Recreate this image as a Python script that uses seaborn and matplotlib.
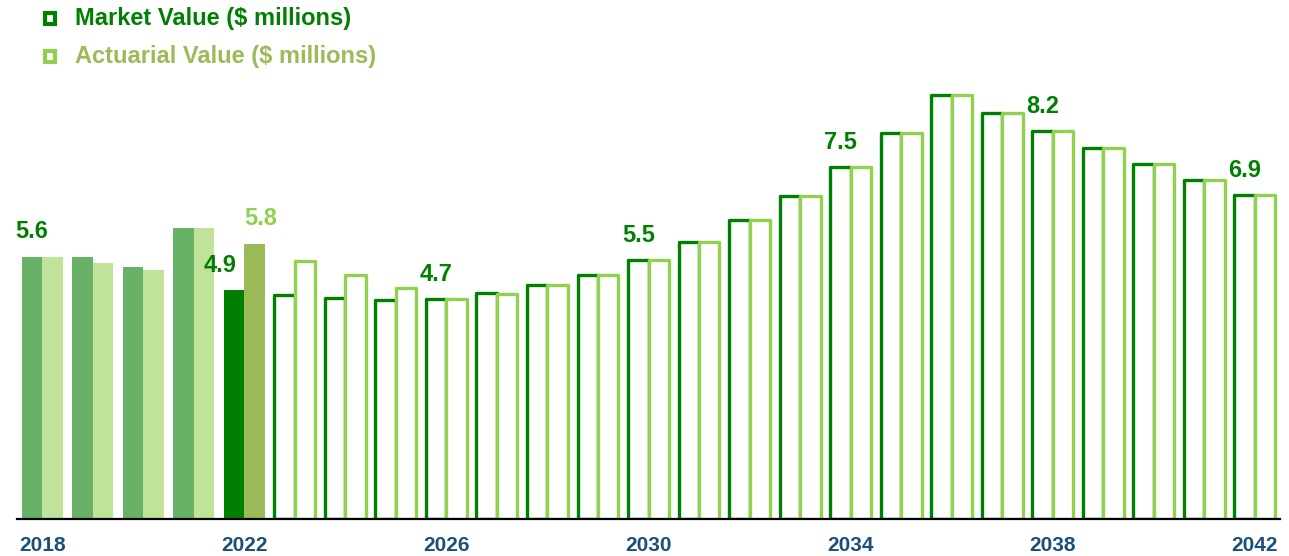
import numpy as np
import pandas as pd

import matplotlib.pyplot as plt
from matplotlib.patches import Rectangle
import seaborn as sns

years = list(range(2018, 2043))
market = [5.6, 5.6, 5.38, 6.22, 4.89, 4.79, 4.72, 4.69, 4.70, 4.83, 5.0, 5.21, 5.53,
          5.92, 6.39, 6.91, 7.52, 8.25, 9.06, 8.68, 8.29, 7.93, 7.59, 7.24, 6.92]
actuarial = [5.6, 5.47, 5.32, 6.22, 5.88, 5.51, 5.22, 4.94, 4.70, 4.81, 5.0, 5.21, 5.53,
             5.92, 6.39, 6.91, 7.52, 8.25, 9.06, 8.68, 8.29, 7.93, 7.59, 7.24, 6.92]
series_names = ['Market Value ($ millions)', 'Actuarial Value ($ millions)']
tick_years = [2018, 2022, 2026, 2030, 2034, 2038, 2042]
label_years = [2018, 2022, 2022, 2026, 2030, 2034, 2038, 2042]
label_series = [0, 0, 1, 0, 0, 0, 0, 0]
label_text = ['5.6', '4.9', '5.8', '4.7', '5.5', '7.5', '8.2', '6.9']

sns.set_style('white')
plt.rcParams['font.family'] = ['Liberation Sans', 'DejaVu Sans']

DKGREEN = '#008000'
LTGREEN = '#92D050'
OLIVE = '#9BBB59'
HIST = ['#67B267', '#C1E399']
CUR = [DKGREEN, OLIVE]
EDGE = [DKGREEN, LTGREEN]

df = pd.DataFrame({
    'year': [str(y) for y in years] * 2,
    'value': market + actuarial,
    'series': [series_names[0]] * len(years) + [series_names[1]] * len(years),
})

fig = plt.figure(figsize=(12.89, 5.56), dpi=100)
ax = fig.add_axes([17 / 1289, 37 / 556, 1263 / 1289, 468 / 556])
sns.barplot(data=df, x='year', y='value', hue='series', hue_order=series_names,
            palette=HIST, width=0.81, dodge=True, legend=False, ax=ax,
            errorbar=None, saturation=1)

for s, cont in enumerate(ax.containers):
    for i, bar in enumerate(cont):
        y = years[i]
        if y <= 2021:
            bar.set_facecolor(HIST[s])
            bar.set_edgecolor('none')
        elif y == 2022:
            bar.set_facecolor(CUR[s])
            bar.set_edgecolor('none')
        else:
            bar.set_facecolor('white')
            bar.set_edgecolor(EDGE[s])
            bar.set_linewidth(2.4)
            bar.set_joinstyle('round')

ax.set_xlim(-0.5, 24.5)
ax.set_ylim(0, 10)
ax.set_xlabel('')
ax.set_ylabel('')
ax.set_yticks([])
ax.set_xticks([years.index(y) for y in tick_years])
ax.set_xticklabels([str(y) for y in tick_years], fontsize=15, fontweight='bold',
                   color='#1B4F7C')
ax.tick_params(axis='x', length=0, pad=12)
for sp in ['top', 'left', 'right']:
    ax.spines[sp].set_visible(False)
ax.spines['bottom'].set_color('black')
ax.spines['bottom'].set_linewidth(1.6)
ax.spines['bottom'].set_zorder(5)

# value labels
for yr, s, txt in zip(label_years, label_series, label_text):
    bar = ax.containers[s][years.index(yr)]
    cx = bar.get_x() + bar.get_width() / 2
    top = bar.get_height()
    dx = 0
    if txt == '4.9':
        dx = -14
    elif txt == '5.8':
        dx = 6
    ax.annotate(txt, (cx, top), xytext=(dx, 25), textcoords='offset pixels',
                ha='center', va='center', fontsize=17, fontweight='bold',
                color=DKGREEN if s == 0 else LTGREEN)

# legend
leg_y = [18, 56]
leg_txt_color = [DKGREEN, OLIVE]
for k in range(2):
    yc = 556 - leg_y[k]
    fig.add_artist(Rectangle(((50 - 5.5) / 1289, (yc - 5.5) / 556), 11 / 1289, 11 / 556,
                             transform=fig.transFigure, facecolor='white',
                             edgecolor=EDGE[k], linewidth=3.0))
    fig.text(75 / 1289, yc / 556, series_names[k], ha='left', va='center',
             fontsize=17, fontweight='bold', color=leg_txt_color[k])

fig.savefig('out.png', dpi=100)
